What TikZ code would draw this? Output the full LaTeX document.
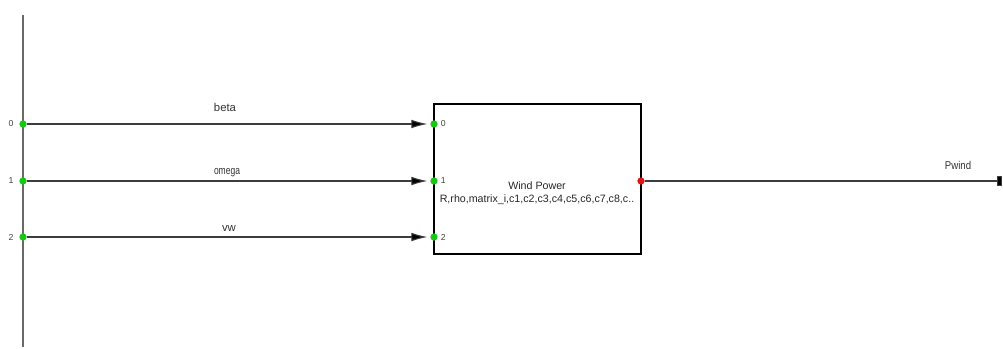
\documentclass[tikz,border=0pt]{standalone}
\usepackage{fontspec}
\setmainfont{Liberation Sans}
\usepackage{xcolor}
\usetikzlibrary{arrows.meta, positioning, calc}

\definecolor{portgreen}{RGB}{20,200,20}
\definecolor{portred}{RGB}{225,20,20}
\definecolor{wiregray}{RGB}{60,60,60}
\definecolor{busgray}{RGB}{105,105,105}

\begin{document}
\begin{tikzpicture}[
    x=0.75pt, y=-0.75pt,
    inport/.style={circle, fill=portgreen, inner sep=0pt, minimum size=5.5pt},
    outport/.style={circle, fill=portred, inner sep=0pt, minimum size=5.5pt},
    block/.style={rectangle, draw, line width=1.3pt, minimum width=155.25pt, minimum height=112.5pt, inner sep=0pt},
    pnum/.style={font=\fontsize{6.5}{7}\selectfont, text=black!75, inner sep=1pt},
    wlabel/.style={font=\fontsize{8.5}{9}\selectfont, text=black!80, inner sep=0pt},
    line/.style={draw, wiregray, line width=0.8pt, -{Latex[length=12pt, width=6.5pt, fill=black]}, shorten >=2pt}
]
\useasboundingbox (0,0) rectangle (1003,349);

% bus on the left
\coordinate (bustop) at (23,15);
\coordinate (busbot) at (23,347);
\draw [busgray, line width=1pt] (bustop) -- (busbot);

\node [inport] (b0) at (23,124) {};
\node [inport] (b1) at (23,181) {};
\node [inport] (b2) at (23,237) {};
\node [pnum, left=3pt of b0] {0};
\node [pnum, left=3pt of b1] {1};
\node [pnum, left=3pt of b2] {2};

% block
\node [block] (wind) at (537.5,179) {};
\node [font=\fontsize{8}{9.5}\selectfont, text=black!85, align=center] (windtxt) at (537,193) {Wind Power\\R,rho,matrix\_i,c1,c2,c3,c4,c5,c6,c7,c8,c..};

\node [inport] (w0) at (434,124) {};
\node [inport] (w1) at (434,181) {};
\node [inport] (w2) at (434,237) {};
\node [pnum, right=1pt of w0] {0};
\node [pnum, right=1pt of w1] {1};
\node [pnum, right=1pt of w2] {2};
\node [outport] (wout) at (641,181) {};
\coordinate (pend) at (1002,181);

\path [line] (b0) -- (w0);
\path [line] (b1) -- (w1);
\path [line] (b2) -- (w2);
\path [draw, wiregray, line width=0.8pt, -{Rectangle[length=4pt, width=7pt, fill=black]}] (wout) -- (pend);

% signal names
\node [wlabel] at (225,107) {beta};
\node [wlabel, xscale=0.75] at (227,173) {omega};
\node [wlabel] at (229,229) {vw};
\node [wlabel, xscale=0.85] at (958,165) {Pwind};
\end{tikzpicture}
\end{document}
